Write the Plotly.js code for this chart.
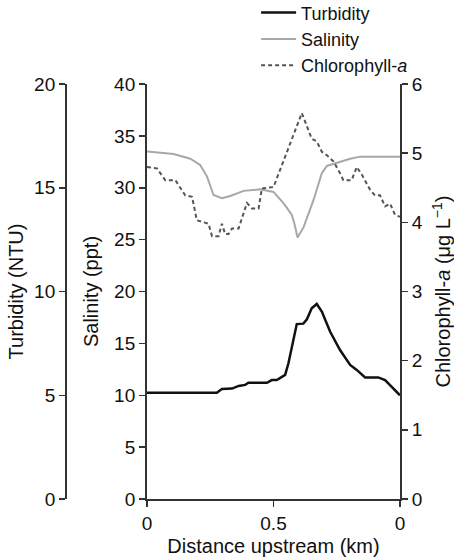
<!DOCTYPE html>
<html>
<head>
<meta charset="utf-8">
<script src="https://cdn.plot.ly/plotly-3.0.1.min.js"></script>
<style>html,body{margin:0;padding:0;background:#fff;}#chart{width:454px;height:560px;}</style>
</head>
<body>
<div id="chart"></div>
<script>
// Distance upstream (fraction of transect, 0 to 1)
const salinityX = [0, 0.105, 0.171, 0.21, 0.237, 0.263, 0.296, 0.329, 0.382, 0.447, 0.5, 0.54, 0.572, 0.582, 0.595, 0.619, 0.658, 0.691, 0.711, 0.763, 0.803, 0.842, 1.0];
const salinity  = [33.5, 33.25, 32.8, 32.2, 31.1, 29.3, 29.0, 29.2, 29.7, 29.85, 29.6, 28.5, 27.4, 26.6, 25.2, 26.2, 28.8, 31.4, 32.1, 32.5, 32.8, 33.0, 33.0];

const chlX = [0, 0.039, 0.072, 0.112, 0.151, 0.178, 0.197, 0.243, 0.257, 0.283, 0.296, 0.309, 0.322, 0.336, 0.362, 0.381, 0.395, 0.415, 0.441, 0.454, 0.5, 0.612, 0.651, 0.671, 0.691, 0.711, 0.737, 0.763, 0.776, 0.809, 0.829, 0.849, 0.882, 0.901, 0.921, 0.941, 0.961, 0.980, 1.0];
const chlorophyll = [4.80, 4.78, 4.61, 4.61, 4.39, 4.37, 4.03, 3.98, 3.80, 3.80, 3.98, 3.83, 3.83, 3.91, 3.91, 4.11, 4.28, 4.20, 4.20, 4.49, 4.51, 5.58, 5.21, 5.17, 5.02, 4.97, 4.88, 4.71, 4.61, 4.61, 4.80, 4.69, 4.47, 4.39, 4.39, 4.23, 4.27, 4.11, 4.08];

const turbX = [0, 0.276, 0.296, 0.336, 0.362, 0.388, 0.401, 0.474, 0.493, 0.513, 0.546, 0.559, 0.592, 0.618, 0.632, 0.651, 0.671, 0.691, 0.724, 0.763, 0.803, 0.829, 0.862, 0.914, 0.941, 0.961, 1.0];
const turbidity = [5.12, 5.12, 5.3, 5.32, 5.45, 5.5, 5.6, 5.6, 5.73, 5.73, 5.98, 6.54, 8.43, 8.45, 8.66, 9.19, 9.4, 9.03, 8.06, 7.18, 6.46, 6.22, 5.86, 5.86, 5.73, 5.49, 5.0];

const xTickVals = [0, 0.5, 1];
const xTickText = ['0', '0.5', '0'];

const FONT = 'Liberation Sans, Arial, Helvetica, sans-serif';
const AX = '#333333';
const TITLE_FONT = {family: FONT, size: 20, color: '#111'};

const traces = [
  {x: turbX, y: turbidity, yaxis: 'y2', name: 'Turbidity', mode: 'lines',
   line: {color: '#111111', width: 2.5}},
  {x: salinityX, y: salinity, yaxis: 'y', name: 'Salinity', mode: 'lines',
   line: {color: '#a8a8a8', width: 2}},
  {x: chlX, y: chlorophyll, yaxis: 'y3', name: 'Chlorophyll-<i>a</i>', mode: 'lines',
   line: {color: '#555555', width: 2, dash: '4px,3px'}}
];

const common = {
  showgrid: false, zeroline: false, showline: true, linecolor: AX, linewidth: 2,
  ticks: 'outside', ticklen: 6, tickwidth: 1.5, tickcolor: AX,
  tickfont: {family: FONT, size: 19, color: '#111'}
};

const layout = {
  width: 454, height: 560,
  margin: {l: 10, r: 54, t: 84, b: 61, pad: 0, autoexpand: false},
  paper_bgcolor: '#ffffff', plot_bgcolor: 'rgba(0,0,0,0)',
  font: {family: FONT, size: 19, color: '#111'},
  showlegend: true,
  legend: {x: 0.631, y: 1.216, xanchor: 'left', yanchor: 'top', bgcolor: 'rgba(0,0,0,0)',
           itemwidth: 35, font: {family: FONT, size: 18, color: '#111'}, tracegroupgap: 0},
  xaxis: Object.assign({}, common, {
    domain: [0.3513, 1], range: [0, 1], tickvals: xTickVals, ticktext: xTickText,
    title: {text: 'Distance upstream (km)', font: TITLE_FONT, standoff: 6}
  }),
  yaxis: Object.assign({}, common, {
    range: [0, 40], dtick: 5, anchor: 'x', side: 'left',
    title: {text: 'Salinity (ppt)', font: TITLE_FONT, standoff: 10}
  }),
  yaxis2: Object.assign({}, common, {
    range: [0, 20], dtick: 5, overlaying: 'y', anchor: 'free', position: 0.1436, side: 'left',
    title: {text: 'Turbidity (NTU)', font: TITLE_FONT, standoff: 4}
  }),
  yaxis3: Object.assign({}, common, {
    range: [0, 6], dtick: 1, overlaying: 'y', anchor: 'x', side: 'right',
    title: {text: 'Chlorophyll-<i>a</i> (μg L<sup>−1</sup>)', font: TITLE_FONT, standoff: 17}
  })
};

Plotly.newPlot('chart', traces, layout, {displayModeBar: false, staticPlot: true});
</script>
</body>
</html>
